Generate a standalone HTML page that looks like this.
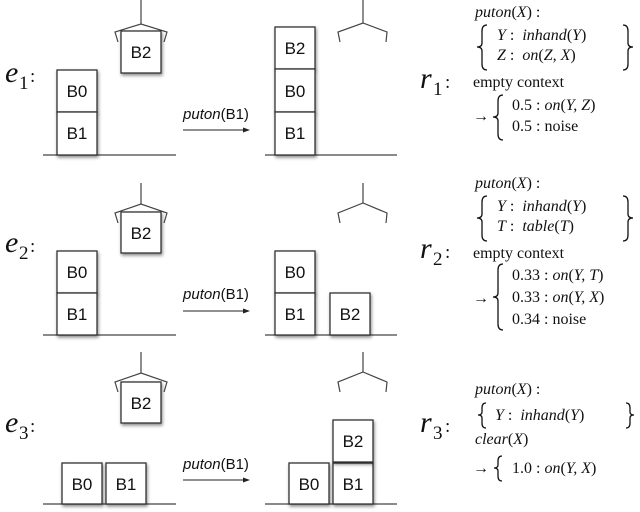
<!DOCTYPE html>
<html><head><meta charset="utf-8"><style>
body{margin:0;background:#fff}
svg{display:block}
.b{fill:#fff;stroke:#333;stroke-width:1.3}
.bt{font-family:"Liberation Sans",sans-serif;font-size:17px;fill:#111;text-anchor:middle}
.m{font-family:"Liberation Serif",serif;font-size:16px;fill:#111}
.big{font-family:"Liberation Serif",serif;font-style:italic;font-size:30px;fill:#111}
.sub{font-family:"Liberation Serif",serif;font-size:19px;fill:#111}
.g{stroke:#444;stroke-width:1.2;fill:none}
.brc{stroke:#111;stroke-width:1.3;fill:none}
</style></head><body>
<svg width="640" height="512" viewBox="0 0 640 512" xmlns="http://www.w3.org/2000/svg">
<defs>
<filter id="s" x="-20%" y="-20%" width="150%" height="150%"><feDropShadow dx="1" dy="2" stdDeviation="1.5" flood-color="#000" flood-opacity="0.45"/></filter>
</defs>

<!-- ROW 1 -->
<text class="big" x="5" y="82">e</text><text class="sub" x="19" y="89">1</text><text class="sub" x="30" y="82">:</text>
<line class="g" x1="43" y1="155" x2="176" y2="155"/>
<line class="g" x1="265" y1="155" x2="397" y2="155"/>
<polyline class="g" points="141,0 141,24"/>
<polyline class="g" points="118,42 115,32 141,24 167,32 164,42"/>
<rect class="b" x="121" y="31" width="40" height="42" filter="url(#s)"/><text class="bt" x="141" y="58">B2</text>
<rect class="b" x="57" y="70" width="40" height="42" filter="url(#s)"/><text class="bt" x="77" y="97">B0</text>
<rect class="b" x="57" y="112" width="40" height="43" filter="url(#s)"/><text class="bt" x="77" y="139">B1</text>
<text class="bt" x="216" y="119" style="font-size:15px"><tspan font-style="italic">puton</tspan>(B1)</text>
<line x1="183" y1="130" x2="244" y2="130" stroke="#222" stroke-width="1"/><polygon points="250,130 243,127.5 243,132.5" fill="#222"/>
<rect class="b" x="275" y="27" width="40" height="42" filter="url(#s)"/><text class="bt" x="295" y="54">B2</text>
<rect class="b" x="275" y="69" width="40" height="43" filter="url(#s)"/><text class="bt" x="295" y="97">B0</text>
<rect class="b" x="275" y="112" width="40" height="43" filter="url(#s)"/><text class="bt" x="295" y="139">B1</text>
<polyline class="g" points="363,0 363,23"/>
<polyline class="g" points="340,42 338,32 363,23 387,32 386,42"/>

<text class="big" x="420" y="88">r</text><text class="sub" x="433" y="95">1</text><text class="sub" x="445" y="88">:</text>
<text class="m" x="475" y="17"><tspan font-style="italic">puton</tspan>(<tspan font-style="italic">X</tspan>) :</text>
<path class="brc" d="M487 25 Q482 25 482 31 L482 43 Q482 47 477 47 Q482 47 482 51 L482 64 Q482 70 487 70"/>
<text class="m" x="497" y="40" xml:space="preserve"><tspan font-style="italic">Y</tspan> :  <tspan font-style="italic">inhand</tspan>(<tspan font-style="italic">Y</tspan>)</text>
<text class="m" x="497" y="60" xml:space="preserve"><tspan font-style="italic">Z</tspan> :  <tspan font-style="italic">on</tspan>(<tspan font-style="italic">Z, X</tspan>)</text>
<path class="brc" d="M623 25 Q628 25 628 31 L628 43 Q628 47 633 47 Q628 47 628 51 L628 64 Q628 70 623 70"/>
<text class="m" x="473" y="87">empty context</text>
<text class="m" x="473" y="121">→</text>
<path class="brc" d="M503 95 Q498 95 498 101 L498 113 Q498 117 493 117 Q498 117 498 121 L498 134 Q498 140 503 140"/>
<text class="m" x="512" y="110">0.5 : <tspan font-style="italic">on</tspan>(<tspan font-style="italic">Y, Z</tspan>)</text>
<text class="m" x="512" y="131">0.5 : noise</text>

<!-- ROW 2 -->
<text class="big" x="5" y="252">e</text><text class="sub" x="19" y="259">2</text><text class="sub" x="30" y="252">:</text>
<line class="g" x1="43" y1="335" x2="176" y2="335"/>
<line class="g" x1="265" y1="335" x2="397" y2="335"/>
<polyline class="g" points="141,183 141,204"/>
<polyline class="g" points="118,223 115,213 141,204 167,213 164,223"/>
<rect class="b" x="121" y="212" width="40" height="41" filter="url(#s)"/><text class="bt" x="141" y="239">B2</text>
<rect class="b" x="57" y="251" width="40" height="42" filter="url(#s)"/><text class="bt" x="77" y="278">B0</text>
<rect class="b" x="57" y="293" width="40" height="42" filter="url(#s)"/><text class="bt" x="77" y="320">B1</text>
<text class="bt" x="216" y="299" style="font-size:15px"><tspan font-style="italic">puton</tspan>(B1)</text>
<line x1="183" y1="311" x2="244" y2="311" stroke="#222" stroke-width="1"/><polygon points="250,311 243,308.5 243,313.5" fill="#222"/>
<rect class="b" x="275" y="251" width="40" height="42" filter="url(#s)"/><text class="bt" x="295" y="278">B0</text>
<rect class="b" x="275" y="293" width="40" height="42" filter="url(#s)"/><text class="bt" x="295" y="320">B1</text>
<rect class="b" x="330" y="293" width="40" height="42" filter="url(#s)"/><text class="bt" x="350" y="320">B2</text>
<polyline class="g" points="363,183 363,203"/>
<polyline class="g" points="340,223 338,213 363,203 387,213 386,223"/>

<text class="big" x="420" y="258">r</text><text class="sub" x="433" y="265">2</text><text class="sub" x="445" y="258">:</text>
<text class="m" x="475" y="188"><tspan font-style="italic">puton</tspan>(<tspan font-style="italic">X</tspan>) :</text>
<path class="brc" d="M487 196 Q482 196 482 202 L482 214 Q482 218 477 218 Q482 218 482 222 L482 235 Q482 241 487 241"/>
<text class="m" x="497" y="211" xml:space="preserve"><tspan font-style="italic">Y</tspan> :  <tspan font-style="italic">inhand</tspan>(<tspan font-style="italic">Y</tspan>)</text>
<text class="m" x="497" y="231" xml:space="preserve"><tspan font-style="italic">T</tspan> :  <tspan font-style="italic">table</tspan>(<tspan font-style="italic">T</tspan>)</text>
<path class="brc" d="M623 196 Q628 196 628 202 L628 214 Q628 218 633 218 Q628 218 628 222 L628 235 Q628 241 623 241"/>
<text class="m" x="473" y="258">empty context</text>
<text class="m" x="473" y="303">→</text>
<path class="brc" d="M503 264 Q498 264 498 270 L498 293 Q498 297 493 297 Q498 297 498 301 L498 324 Q498 330 503 330"/>
<text class="m" x="512" y="280">0.33 : <tspan font-style="italic">on</tspan>(<tspan font-style="italic">Y, T</tspan>)</text>
<text class="m" x="512" y="302">0.33 : <tspan font-style="italic">on</tspan>(<tspan font-style="italic">Y, X</tspan>)</text>
<text class="m" x="512" y="324">0.34 : noise</text>

<!-- ROW 3 -->
<text class="big" x="5" y="432">e</text><text class="sub" x="19" y="439">3</text><text class="sub" x="30" y="432">:</text>
<line class="g" x1="43" y1="504" x2="176" y2="504"/>
<line class="g" x1="265" y1="504" x2="397" y2="504"/>
<polyline class="g" points="141,352 141,373"/>
<polyline class="g" points="118,392 115,382 141,373 167,382 164,392"/>
<rect class="b" x="121" y="382" width="40" height="41" filter="url(#s)"/><text class="bt" x="141" y="409">B2</text>
<rect class="b" x="62" y="463" width="40" height="41" filter="url(#s)"/><text class="bt" x="82" y="490">B0</text>
<rect class="b" x="106" y="463" width="40" height="41" filter="url(#s)"/><text class="bt" x="126" y="490">B1</text>
<text class="bt" x="216" y="469" style="font-size:15px"><tspan font-style="italic">puton</tspan>(B1)</text>
<line x1="183" y1="480" x2="244" y2="480" stroke="#222" stroke-width="1"/><polygon points="250,480 243,477.5 243,482.5" fill="#222"/>
<rect class="b" x="289" y="463" width="40" height="41" filter="url(#s)"/><text class="bt" x="309" y="490">B0</text>
<rect class="b" x="333" y="463" width="40" height="41" filter="url(#s)"/><text class="bt" x="353" y="490">B1</text>
<rect class="b" x="333" y="420" width="40" height="42" filter="url(#s)"/><text class="bt" x="353" y="447">B2</text>
<polyline class="g" points="363,352 363,372"/>
<polyline class="g" points="340,392 338,382 363,372 387,382 386,392"/>

<text class="big" x="420" y="432">r</text><text class="sub" x="433" y="439">3</text><text class="sub" x="445" y="432">:</text>
<text class="m" x="475" y="394"><tspan font-style="italic">puton</tspan>(<tspan font-style="italic">X</tspan>) :</text>
<path class="brc" d="M486 403 Q482 403 482 408 L482 412 Q482 415 478 415 Q482 415 482 418 L482 423 Q482 428 486 428"/>
<text class="m" x="495" y="420" xml:space="preserve"><tspan font-style="italic">Y</tspan> :  <tspan font-style="italic">inhand</tspan>(<tspan font-style="italic">Y</tspan>)</text>
<path class="brc" d="M626 403 Q630 403 630 408 L630 412 Q630 415 634 415 Q630 415 630 418 L630 423 Q630 428 626 428"/>
<text class="m" x="475" y="444"><tspan font-style="italic">clear</tspan>(<tspan font-style="italic">X</tspan>)</text>
<text class="m" x="473" y="473">→</text>
<path class="brc" d="M502 456 Q498 456 498 461 L498 465 Q498 468 494 468 Q498 468 498 471 L498 476 Q498 481 502 481"/>
<text class="m" x="512" y="473">1.0 : <tspan font-style="italic">on</tspan>(<tspan font-style="italic">Y, X</tspan>)</text>
</svg>
</body></html>
